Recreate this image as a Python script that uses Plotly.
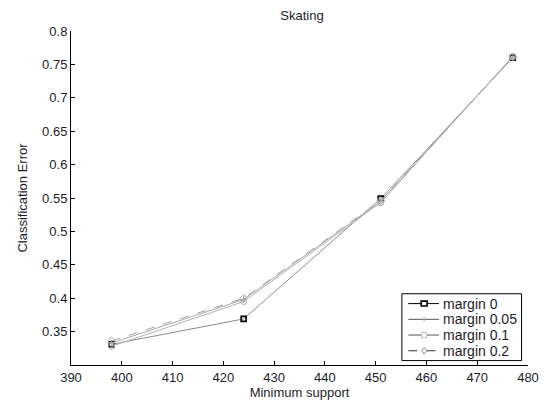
import plotly.graph_objects as go

# Minimum support thresholds and classification error per margin setting
min_support = [398, 424, 451, 477]
err_margin_0 = [0.331, 0.369, 0.549, 0.760]
err_margin_005 = [0.333, 0.398, 0.545, 0.761]
err_margin_01 = [0.328, 0.395, 0.543, 0.762]
err_margin_02 = [0.336, 0.400, 0.546, 0.761]

series_names = ["margin 0", "margin 0.05", "margin 0.1", "margin 0.2"]

x_ticks = [390, 400, 410, 420, 430, 440, 450, 460, 470, 480]
y_ticks = [0.35, 0.4, 0.45, 0.5, 0.55, 0.6, 0.65, 0.7, 0.75, 0.8]

FONT = "Liberation Sans, Arial, sans-serif"
TEXT = "#1c1c2a"
W, H = 551, 406
ML, MR, MT, MB = 71, 18, 31, 35
PW, PH = W - ML - MR, H - MT - MB


def px_x(px):
    """Pixel column -> paper x."""
    return (px - ML) / PW


def px_y(py):
    """Pixel row -> paper y."""
    return (H - MB - py) / PH


fig = go.Figure()

styles = [
    dict(line=dict(color="#8c8c8c", width=1, dash="solid"),
         marker=dict(symbol="square-open", size=5, color="black", line=dict(width=1.6, color="black"))),
    dict(line=dict(color="#a8a8a8", width=1, dash="solid"),
         marker=dict(symbol="cross-thin-open", size=5, color="#a8a8a8", line=dict(width=1, color="#a8a8a8"))),
    dict(line=dict(color="#b0b0b0", width=1, dash="solid"),
         marker=dict(symbol="circle-open", size=6, color="#a8a8a8", line=dict(width=1, color="#a8a8a8"))),
    dict(line=dict(color="#a4a4a4", width=1, dash="dash"),
         marker=dict(symbol="diamond-open", size=6, color="#a8a8a8", line=dict(width=1, color="#a8a8a8"))),
]

for name, ys, st in zip(series_names,
                        [err_margin_0, err_margin_005, err_margin_01, err_margin_02],
                        styles):
    fig.add_trace(go.Scatter(x=min_support, y=ys, mode="lines+markers", name=name,
                             line=st["line"], marker=st["marker"], showlegend=False))

# Compact boxed legend in the lower-right corner
shapes = []
annotations = []
box_l, box_r, box_t, box_b = 405.5, 526.5, 298.5, 366.5
shapes.append(dict(type="rect", xref="paper", yref="paper",
                   x0=px_x(box_l), x1=px_x(box_r), y0=px_y(box_b), y1=px_y(box_t),
                   line=dict(color="black", width=1), fillcolor="white", layer="above"))
row_y = [308.5, 324.5, 340.5, 356.5]
line_x0, line_x1, mark_x, text_x = 412, 443, 428, 445
legend_line_colors = ["black", "#555555", "#555555", "#333333"]
legend_mark_colors = ["black", "#b0b0b0", "#b0b0b0", "#909090"]
for i, (name, ry) in enumerate(zip(series_names, row_y)):
    dash = "dash" if i == 3 else "solid"
    shapes.append(dict(type="line", xref="paper", yref="paper",
                       x0=px_x(line_x0), x1=px_x(line_x1), y0=px_y(ry), y1=px_y(ry),
                       line=dict(color=legend_line_colors[i], width=1, dash=dash), layer="above"))
    mc = legend_mark_colors[i]
    if i == 0:
        shapes.append(dict(type="rect", xref="paper", yref="paper",
                           x0=px_x(mark_x - 3), x1=px_x(mark_x + 3),
                           y0=px_y(ry + 2.5), y1=px_y(ry - 2.5),
                           line=dict(color="black", width=1.6), fillcolor="white", layer="above"))
    elif i == 1:
        shapes.append(dict(type="line", xref="paper", yref="paper",
                           x0=px_x(mark_x), x1=px_x(mark_x), y0=px_y(ry + 2.5), y1=px_y(ry - 2.5),
                           line=dict(color=mc, width=1), layer="above"))
    elif i == 2:
        shapes.append(dict(type="circle", xref="paper", yref="paper",
                           x0=px_x(mark_x - 3), x1=px_x(mark_x + 3),
                           y0=px_y(ry + 3), y1=px_y(ry - 3),
                           line=dict(color=mc, width=1), fillcolor="white", layer="above"))
    else:
        x0, x1, y0, y1 = px_x(mark_x - 2.5), px_x(mark_x + 2.5), px_y(ry + 3.5), px_y(ry - 3.5)
        xm, ym = px_x(mark_x), px_y(ry)
        shapes.append(dict(type="path", xref="paper", yref="paper",
                           path=f"M {xm} {y0} L {x1} {ym} L {xm} {y1} L {x0} {ym} Z",
                           line=dict(color=mc, width=1), fillcolor="white", layer="above"))
    annotations.append(dict(xref="paper", yref="paper", x=px_x(text_x), y=px_y(ry),
                            xanchor="left", yanchor="middle", text=name, showarrow=False,
                            font=dict(family=FONT, size=14, color=TEXT)))

fig.update_layout(
    width=W, height=H,
    margin=dict(l=ML, r=MR, t=MT, b=MB),
    paper_bgcolor="white", plot_bgcolor="white",
    font=dict(family=FONT, size=13, color=TEXT),
    title=dict(text="Skating", x=(ML + ML + PW) / 2 / W, xanchor="center",
               y=1 - 15 / H, yanchor="middle", font=dict(size=13, color=TEXT)),
    showlegend=False,
    shapes=shapes,
    annotations=annotations,
)

fig.update_xaxes(
    range=[390, 480], tickvals=x_ticks, ticktext=[str(v) for v in x_ticks],
    showline=True, linecolor="black", linewidth=1, mirror=False,
    ticks="inside", ticklen=4, tickcolor="black",
    showgrid=False, zeroline=False,
    title=dict(text="Minimum support", font=dict(size=13, color=TEXT), standoff=0),
    tickfont=dict(size=13, color=TEXT),
)
fig.update_yaxes(
    range=[0.3, 0.8], tickvals=y_ticks, ticktext=[f"{v:g}" for v in y_ticks],
    showline=True, linecolor="black", linewidth=1, mirror=False,
    ticks="inside", ticklen=4, tickcolor="black",
    showgrid=False, zeroline=False,
    title=dict(text="Classification Error", font=dict(size=13, color=TEXT), standoff=11),
    tickfont=dict(size=13, color=TEXT),
)

fig.write_html("out.html")
